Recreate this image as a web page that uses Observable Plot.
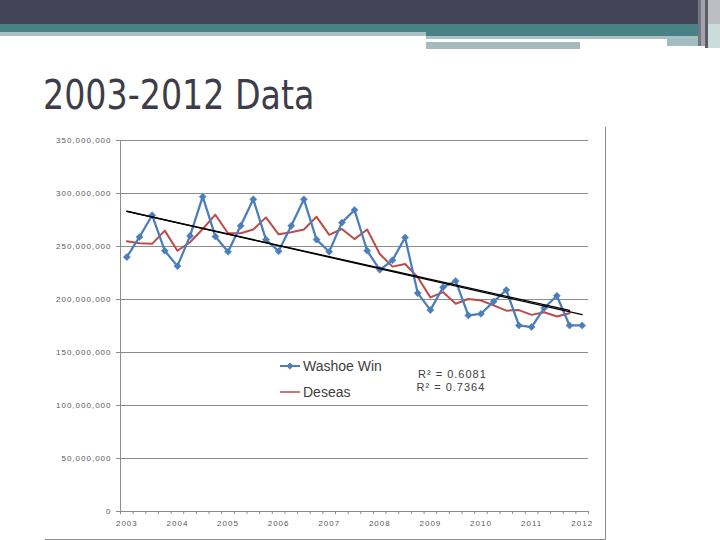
<!DOCTYPE html>
<html>
<head>
<meta charset="utf-8">
<script src="https://cdn.jsdelivr.net/npm/d3@7"></script>
<script src="https://cdn.jsdelivr.net/npm/@observablehq/plot@0.6"></script>
<style>
  html, body { margin: 0; padding: 0; background: #fff; }
  #page { position: relative; width: 720px; height: 540px; overflow: hidden; background: #fff; }
  .band { position: absolute; }
  #title { position: absolute; left: 43px; top: 72px; font-family: "DejaVu Sans Condensed", "DejaVu Sans", sans-serif; font-size: 37px; color: #3d3d4a; white-space: nowrap; line-height: 44px; transform: scale(1, 1.1); transform-origin: left top; }
  #chart { position: absolute; left: 45px; top: 127px; width: 560px; height: 412px; border-right: 1px solid #8a8a8a; border-bottom: 1px solid #8a8a8a; }
  .leg { position: absolute; font-family: "Liberation Sans", Arial, sans-serif; color: #404040; white-space: nowrap; }
</style>
</head>
<body>
<div id="page">
  <!-- header decoration -->
  <div class="band" style="left:0;top:0;width:720px;height:24px;background:#434456"></div>
  <div class="band" style="left:0;top:24px;width:698px;height:8px;background:#4a8186"></div>
  <div class="band" style="left:0;top:32px;width:426px;height:4px;background:#a5c1c4"></div>
  <div class="band" style="left:426px;top:32px;width:272px;height:4px;background:#4a8186"></div>
  <div class="band" style="left:426px;top:36px;width:282px;height:3px;background:#a9bfc2"></div>
  <div class="band" style="left:426px;top:39px;width:241px;height:3px;background:#ffffff"></div>
  <div class="band" style="left:667px;top:39px;width:41px;height:7px;background:#a3bcbf"></div>
  <div class="band" style="left:426px;top:42px;width:154px;height:7px;background:#a6b9bc"></div>
  <div class="band" style="left:698px;top:0;width:3px;height:46px;background:#75757f"></div>
  <div class="band" style="left:701px;top:0;width:4px;height:46px;background:#a3a3ad"></div>
  <div class="band" style="left:705px;top:0;width:3px;height:48px;background:#5c5c68"></div>
  <div class="band" style="left:708px;top:0;width:12px;height:48px;background:#bcbcc4"></div>
  <div class="band" style="left:708px;top:24px;width:12px;height:24px;background:#cbdcdd"></div>

  <div id="title">2003-2012 Data</div>
  <div id="chart"></div>

  <!-- legend -->
  <svg class="leg" style="left:278px;top:358px" width="26" height="40">
    <line x1="2" y1="8" x2="22" y2="8" stroke="#4a7ebb" stroke-width="2"></line>
    <path d="M12,4.5 L15.5,8 L12,11.5 L8.5,8 Z" fill="#4a7ebb"></path>
    <line x1="2" y1="34" x2="22" y2="34" stroke="#be4b48" stroke-width="1.5"></line>
  </svg>
  <div class="leg" style="left:303px;top:357px;font-size:14px;line-height:18px">Washoe Win</div>
  <div class="leg" style="left:303px;top:383px;font-size:14px;line-height:18px">Deseas</div>
  <div class="leg" style="left:418px;top:368px;font-size:11px;line-height:12px;letter-spacing:1px">R² = 0.6081</div>
  <div class="leg" style="left:416.5px;top:380.5px;font-size:11px;line-height:12px;letter-spacing:1px">R² = 0.7364</div>
</div>
<script>
// ---- data (values in millions, quarterly, 2003 Q1 onward) ----
const yearLabels = ["2003","2004","2005","2006","2007","2008","2009","2010","2011","2012"];
const yTickValues = [0, 50e6, 100e6, 150e6, 200e6, 250e6, 300e6, 350e6];
const washoeWin = [
  240, 259, 279.5, 246, 231.5, 260, 297, 259.5,
  245, 269.5, 294.5, 256.5, 245.5, 269.5, 294.5, 256.5,
  245, 272.5, 284.5, 246, 228, 237, 258.5, 206,
  190, 211.5, 217.5, 185, 186.5, 198, 209, 175.5,
  174, 192, 203.5, 175.5, 175.5
];
const deseas = [
  255, 253, 252.5, 265, 246, 254, 266.5, 280,
  262.5, 262.5, 266, 277.5, 261.5, 263.5, 266, 278,
  261, 266.5, 257, 266, 243, 231, 233.5, 221,
  202, 207, 196, 200.5, 199, 194.5, 189.5, 190,
  185.5, 188, 184, 187
];

const blueRows = washoeWin.map((v, i) => ({i, v: v * 1e6}));
const redRows = deseas.map((v, i) => ({i, v: v * 1e6}));
const quarterBounds = d3.range(washoeWin.length + 1).map(k => k - 0.5);
const yearIdx = yearLabels.map((_, k) => k * 4);

const chart = Plot.plot({
  width: 560,
  height: 412,
  marginLeft: 75,
  marginRight: 17,
  marginTop: 13,
  marginBottom: 28,
  style: {fontFamily: "'Liberation Sans', Arial, sans-serif", background: "transparent", color: "#595959", fontSize: "8px", letterSpacing: "1px"},
  x: {domain: [-0.5, washoeWin.length - 0.5], axis: null},
  y: {domain: [0, 350e6], axis: null},
  marks: [
    Plot.gridY(yTickValues, {stroke: "#8c8c8c", strokeOpacity: 1, strokeWidth: 1}),
    Plot.axisY(yTickValues, {tickSize: 4, tickPadding: 5, tickFormat: d3.format(","), stroke: "#8c8c8c", fill: "#595959", label: null}),
    Plot.ruleX([-0.5], {stroke: "#8c8c8c"}),
    Plot.ruleY([0], {stroke: "#8c8c8c"}),
    Plot.axisX(quarterBounds, {tickSize: 3, tickFormat: () => "", stroke: "#8c8c8c", label: null}),
    Plot.axisX(yearIdx, {tickSize: 0, tickPadding: 9, tickFormat: d => yearLabels[d / 4], fill: "#595959", label: null}),
    Plot.line(redRows, {x: "i", y: "v", stroke: "#be4b48", strokeWidth: 2}),
    Plot.line(blueRows, {x: "i", y: "v", stroke: "#4a7ebb", strokeWidth: 2.25}),
    Plot.dot(blueRows, {x: "i", y: "v", symbol: "diamond2", r: 3.2, fill: "#4a7ebb", stroke: "#4a7ebb", strokeWidth: 0.5}),
    Plot.linearRegressionY(blueRows, {x: "i", y: "v", stroke: "#000", strokeWidth: 1.3, ci: 0}),
    Plot.linearRegressionY(redRows, {x: "i", y: "v", stroke: "#000", strokeWidth: 1.3, ci: 0})
  ]
});
document.getElementById("chart").appendChild(chart);
</script>
</body>
</html>
